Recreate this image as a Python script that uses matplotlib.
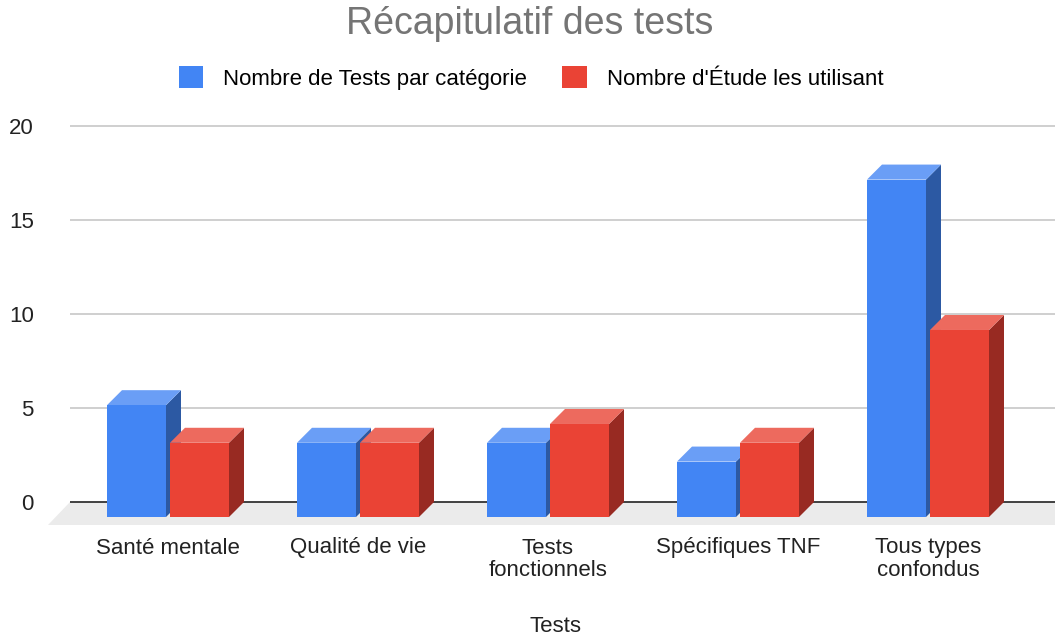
import matplotlib.pyplot as plt
from matplotlib.patches import Patch, Polygon

# data
categories = ["Santé mentale", "Qualité de vie", "Tests\nfonctionnels",
              "Spécifiques TNF", "Tous types\nconfondus"]
nb_tests = [5, 3, 3, 2, 17]
nb_etudes = [3, 3, 4, 3, 9]
series_names = ["Nombre de Tests par catégorie", "Nombre d'Étude les utilisant"]

# colours: front, top, side
blue = ("#4285f4", "#6a9ef6", "#2c59a3")
red = ("#ea4335", "#ed6a5e", "#982a22")

plt.rcParams["font.family"] = ["Liberation Sans", "DejaVu Sans"]

W, H = 1055, 639
fig = plt.figure(figsize=(W / 100, H / 100), dpi=100)

# plot area in pixels: left 70, right 1055, zero at y=502, 18.8 px per unit
px_unit = 18.8
left_px, right_px, top_px, bot_px = 70, 1055, 110, 525
ax = fig.add_axes([left_px / W, (H - bot_px) / H,
                   (right_px - left_px) / W, (bot_px - top_px) / H])
ax.set_ylim((502 - bot_px) / px_unit, (502 - top_px) / px_unit)
ax.set_xlim((left_px - 168) / 190, (right_px - 168) / 190)

bar_w = 59 / 190
gap = 4 / 190
dx = 15 / 190
dy = 15 / px_unit
y_base = -dy


def draw_bar(x0, val, cols):
    x1 = x0 + bar_w
    yt = val + 0.15
    front, top, side = cols
    ax.add_patch(Polygon([(x1, y_base), (x1 + dx, y_base + dy), (x1 + dx, yt + dy), (x1, yt)],
                         closed=True, facecolor=side, edgecolor="none", zorder=5, clip_on=False))
    ax.add_patch(Polygon([(x0, yt), (x0 + dx, yt + dy), (x1 + dx, yt + dy), (x1, yt)],
                         closed=True, facecolor=top, edgecolor="none", zorder=5, clip_on=False))
    ax.add_patch(Polygon([(x0, y_base), (x1, y_base), (x1, yt), (x0, yt)],
                         closed=True, facecolor=front, edgecolor="none", zorder=5, clip_on=False))


# floor
floor_depth = (525 - 502) / px_unit
ax.add_patch(Polygon([((left_px - 168) / 190, 0), (5.0, 0), (5.0 - 22 / 190, -floor_depth),
                      ((48 - 168) / 190, -floor_depth)],
                     closed=True, facecolor="#ebebeb", edgecolor="none", zorder=1, clip_on=False))

# gridlines
for v in [5, 10, 15, 20]:
    ax.axhline(v, color="#cccccc", lw=1.3, zorder=2)
ax.axhline(0, color="#333333", lw=1.3, zorder=3)

for i in range(len(categories)):
    xb = i - bar_w - gap / 2
    xr = i + gap / 2
    draw_bar(xb, nb_tests[i], blue)
    draw_bar(xr, nb_etudes[i], red)

for s in ax.spines.values():
    s.set_visible(False)
ax.set_yticks([0, 5, 10, 15, 20])
ax.set_yticklabels(["0", "5", "10", "15", "20"], fontsize=16, color="#222222")
ax.tick_params(axis="y", length=0, pad=26)
ax.set_xticks(range(len(categories)))
ax.set_xticklabels(categories, fontsize=16, color="#222222", linespacing=1.12)
ax.tick_params(axis="x", length=0, pad=9)

fig.text(555 / W, 1 - 627 / H, "Tests", ha="center", va="center", fontsize=16, color="#222222")

fig.text(530 / W, 1 - 24 / H, "Récapitulatif des tests", ha="center", va="center",
         fontsize=27, color="#757575")

handles = [Patch(facecolor=blue[0], edgecolor="none"), Patch(facecolor=red[0], edgecolor="none")]
fig.legend(handles, series_names, loc="center", bbox_to_anchor=(531 / W, 1 - 78 / H), ncol=2,
           frameon=False, fontsize=16, handlelength=1.1, handleheight=1.1,
           columnspacing=1.6, handletextpad=0.9)

fig.savefig("out.png", dpi=100)
